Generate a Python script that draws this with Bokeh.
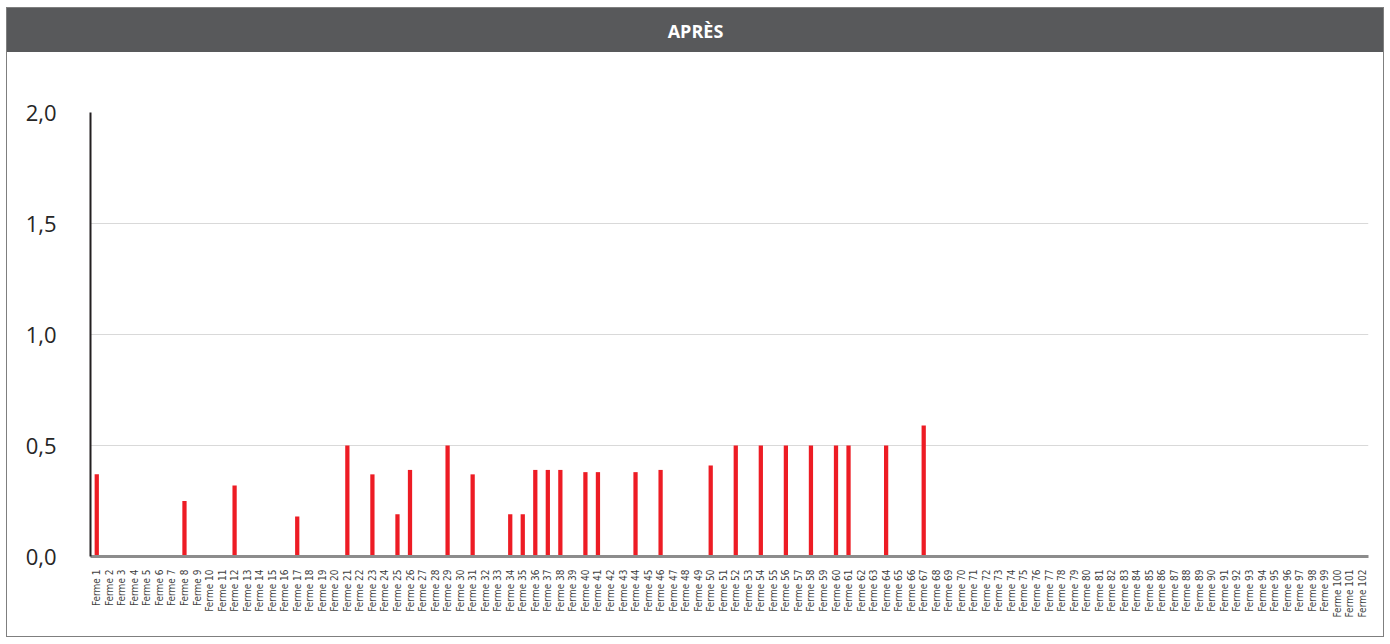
import math
from bokeh.plotting import figure
from bokeh.models import Range1d, FactorRange, FixedTicker, CustomJSTickFormatter, ColumnDataSource
from bokeh.layouts import column
from bokeh.embed import file_html
from bokeh.resources import INLINE
from bokeh.core.properties import value

# ---- data ----
title_text = "APRÈS"
farm_labels = ["Ferme %d" % i for i in range(1, 103)]
farm_values = [
    0.37, 0, 0, 0, 0, 0, 0, 0.25, 0, 0,            # 1-10
    0, 0.32, 0, 0, 0, 0, 0.18, 0, 0, 0,            # 11-20
    0.50, 0, 0.37, 0, 0.19, 0.39, 0, 0, 0.50, 0,   # 21-30
    0.37, 0, 0, 0.19, 0.19, 0.39, 0.39, 0.39, 0, 0.38,  # 31-40
    0.38, 0, 0, 0.38, 0, 0.39, 0, 0, 0, 0.41,      # 41-50
    0, 0.50, 0, 0.50, 0, 0.50, 0, 0.50, 0, 0.50,   # 51-60
    0.50, 0, 0, 0.50, 0, 0, 0.59, 0, 0, 0,         # 61-70
    0, 0, 0, 0, 0, 0, 0, 0, 0, 0,                  # 71-80
    0, 0, 0, 0, 0, 0, 0, 0, 0, 0,                  # 81-90
    0, 0, 0, 0, 0, 0, 0, 0, 0, 0,                  # 91-100
    0, 0,                                          # 101-102
]
y_ticks = [0, 0.5, 1.0, 1.5, 2.0]

W = 1376
ML, MR = 83, 15
BAR_BG = "#58595b"

# ---- title bar ----
tb = figure(width=W, height=44, x_range=Range1d(0, 1), y_range=Range1d(0, 1),
            toolbar_location=None, output_backend="svg",
            min_border_left=ML, min_border_right=MR, min_border_top=0, min_border_bottom=0,
            x_axis_location=None, y_axis_location=None,
            background_fill_alpha=0, border_fill_alpha=0,
            outline_line_color=None)
tb.styles = {"background-color": BAR_BG}
tb.grid.visible = False
tb.text(x=[0.5 - 0.5 * (ML - MR) / (W - ML - MR)], y=[0.48], text=[title_text],
        text_align="center", text_baseline="middle",
        text_color="white", text_font=value("Open Sans"), text_font_style="bold",
        text_font_size="18px")

# ---- main chart ----
src = ColumnDataSource(dict(farm=farm_labels, val=farm_values))
p = figure(width=W, height=584, x_range=FactorRange(factors=farm_labels),
           y_range=Range1d(0, 2.0), toolbar_location=None, output_backend="svg",
           min_border_left=ML, min_border_right=MR, min_border_top=60, min_border_bottom=80,
           outline_line_color=None, background_fill_color="white", border_fill_color="white")
p.vbar(x="farm", top="val", width=0.34, source=src, fill_color="#ed1c24",
       line_color=None)

p.xgrid.grid_line_color = None
p.ygrid.grid_line_color = "#d9d9d9"
p.ygrid.grid_line_width = 1
p.ygrid.ticker = FixedTicker(ticks=y_ticks)

ya = p.yaxis[0]
ya.ticker = FixedTicker(ticks=y_ticks)
ya.formatter = CustomJSTickFormatter(code="return tick.toFixed(1).replace('.', ',');")
ya.axis_line_color = "#231f20"
ya.axis_line_width = 2
ya.major_tick_line_color = None
ya.minor_tick_line_color = None
ya.major_label_text_font = "Open Sans"
ya.major_label_text_font_size = "22px"
ya.major_label_text_color = "#262626"
ya.major_label_standoff = 28

xa = p.xaxis[0]
xa.axis_line_color = "#8c8c8c"
xa.axis_line_width = 3
xa.major_tick_line_color = None
xa.minor_tick_line_color = None
xa.major_label_orientation = math.pi / 2
xa.major_label_text_font = "Liberation Sans Narrow, DejaVu Sans Condensed, sans-serif"
xa.major_label_text_font_size = "10px"
xa.major_label_text_color = "#404040"
xa.major_label_standoff = 7

layout = column(tb, p, spacing=0)
layout.styles = {"outline": "1px solid #7f7f7f", "margin-left": "7px", "margin-top": "8px"}

open("out.html", "w").write(file_html(layout, INLINE))
